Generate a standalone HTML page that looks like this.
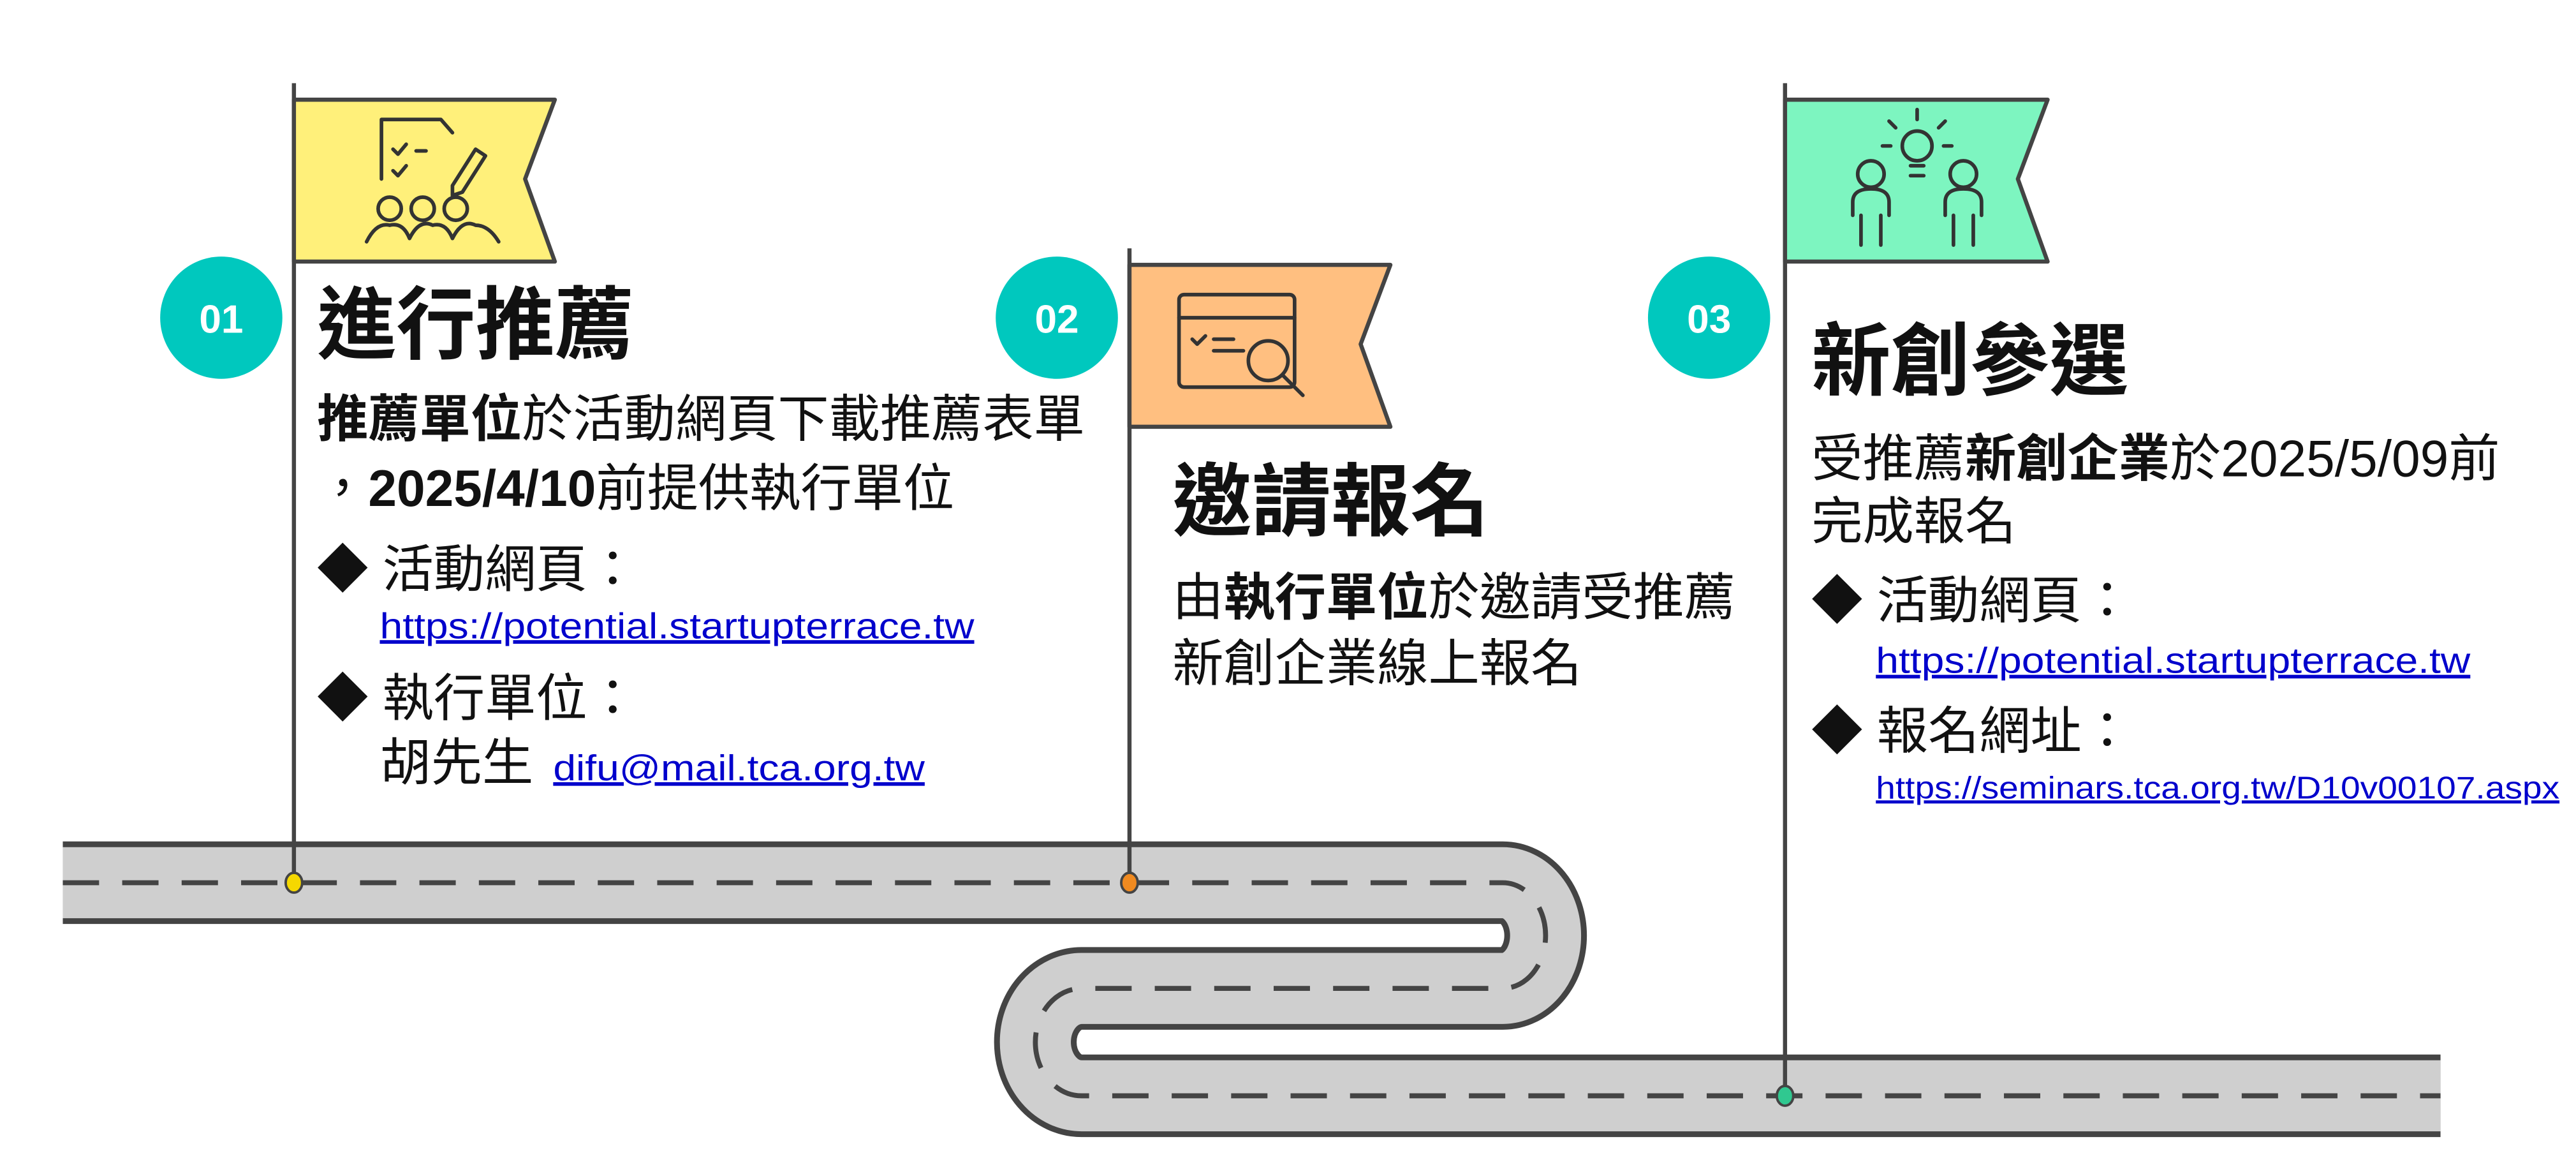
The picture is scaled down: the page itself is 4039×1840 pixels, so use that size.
<!DOCTYPE html>
<html><head><meta charset="utf-8"><style>
html,body{margin:0;padding:0;background:#fff;}
svg{display:block;}
text{font-family:"Liberation Sans","Noto Sans CJK TC",sans-serif;fill:#111;}
.t{font-size:48px;font-weight:bold;}
.b{font-size:31px;}
.l{fill:#0000CC;text-decoration:underline;}
.n{font-size:24px;font-weight:bold;fill:#fff;}
</style></head><body>
<svg width="4039" height="1840" viewBox="0 0 1560 710" xmlns="http://www.w3.org/2000/svg">
<!-- road -->
<g fill="none">
<path d="M38 534 H910 A26 32 0 0 1 910 598 H655 A28 32.5 0 0 0 655 663 H1478" stroke="#444" stroke-width="50"/>
<path d="M38 534 H910 A26 32 0 0 1 910 598 H655 A28 32.5 0 0 0 655 663 H1478" stroke="#cfcfcf" stroke-width="43"/>
<path d="M38 534 H910 A26 32 0 0 1 910 598 H655 A28 32.5 0 0 0 655 663 H1478" stroke="#444" stroke-width="3" stroke-dasharray="22 14"/>
<rect x="1478" y="630" width="20" height="70" fill="#fff" stroke="none"/>
<rect x="20" y="500" width="18" height="70" fill="#fff" stroke="none"/>
</g>
<!-- poles -->
<g stroke="#444" stroke-width="2.5">
<line x1="178" y1="50" x2="178" y2="534"/>
<line x1="684" y1="150" x2="684" y2="534"/>
<line x1="1081" y1="50" x2="1081" y2="663"/>
</g>
<ellipse cx="178" cy="534" rx="5" ry="6" fill="#f5d800" stroke="#444" stroke-width="1.5"/>
<ellipse cx="684" cy="534" rx="5" ry="6" fill="#f08a20" stroke="#444" stroke-width="1.5"/>
<ellipse cx="1081" cy="663" rx="5" ry="6" fill="#30c890" stroke="#444" stroke-width="1.5"/>
<!-- flags -->
<g stroke="#444" stroke-width="2.5" stroke-linejoin="round">
<polygon points="178,60 336,60 318,108 336,158 178,158" fill="#FFF07A"/>
<polygon points="684,160 842,160 824,208 842,258 684,258" fill="#FFBF80"/>
<polygon points="1081,60 1240,60 1222,108 1240,158 1081,158" fill="#7DF5C0"/>
</g>
<!-- icons -->
<g fill="none" stroke="#333" stroke-width="2.2" stroke-linecap="round" stroke-linejoin="round">
<path d="M231 108 V72 H267 L274 80"/>
<path d="M238 90 l3 3 5-6 M238 103 l3 3 5-6 M252 91 h6"/>
<path d="M288 90 l6 4 -14 22 -6 2 0-6z"/>
<circle cx="236" cy="126" r="7"/><circle cx="256" cy="126" r="7"/><circle cx="276" cy="126" r="7"/>
<path d="M222 146 q6-12 14-10 q8-2 12 8 q6-12 14-8 q8-2 12 8 q6-12 14-8 q8 0 14 10"/>
<rect x="714" y="178" width="70" height="56" rx="3"/><path d="M714 192 H784 M722 205 l3 3 5-5 M735 205 h12 M735 212 h18"/>
<circle cx="768" cy="218" r="12" fill="#FFBF80"/><path d="M777 227 l12 12"/>
<circle cx="1161" cy="88" r="9"/><path d="M1157 100 h8 M1157 106 h8 M1161 72 v-6 M1148 77 l-4-4 M1174 77 l4-4 M1145 88 h-5 M1177 88 h5"/>
<circle cx="1133" cy="105" r="8"/><path d="M1122 130 v-8 q0-8 11-8 q11 0 11 8 v8 M1127 130 v18 M1139 130 v18"/>
<circle cx="1189" cy="105" r="8"/><path d="M1178 130 v-8 q0-8 11-8 q11 0 11 8 v8 M1183 130 v18 M1195 130 v18"/>
</g>
<!-- number circles -->
<circle cx="134" cy="192" r="37" fill="#00C8BE"/>
<circle cx="640" cy="192" r="37" fill="#00C8BE"/>
<circle cx="1035" cy="192" r="37" fill="#00C8BE"/>
<text class="n" x="134" y="201" text-anchor="middle">01</text>
<text class="n" x="640" y="201" text-anchor="middle">02</text>
<text class="n" x="1035" y="201" text-anchor="middle">03</text>
<!-- column 1 -->
<text class="t" x="192" y="213">進行推薦</text>
<text class="b" x="192" y="264"><tspan font-weight="bold">推薦單位</tspan>於活動網頁下載推薦表單</text>
<text class="b" x="192" y="306">，<tspan font-weight="bold">2025/4/10</tspan>前提供執行單位</text>
<text class="b" x="192" y="355">◆ 活動網頁：</text>
<text class="l" x="230" y="386" font-size="22" textLength="360" lengthAdjust="spacingAndGlyphs">https://potential.startupterrace.tw</text>
<text class="b" x="192" y="433">◆ 執行單位：</text>
<text class="b" x="230" y="472">胡先生</text>
<text class="l" x="335" y="472" font-size="22" textLength="225" lengthAdjust="spacingAndGlyphs">difu@mail.tca.org.tw</text>
<!-- column 2 -->
<text class="t" x="710" y="320">邀請報名</text>
<text class="b" x="710" y="372">由<tspan font-weight="bold">執行單位</tspan>於邀請受推薦</text>
<text class="b" x="710" y="412">新創企業線上報名</text>
<!-- column 3 -->
<text class="t" x="1097" y="235">新創參選</text>
<text class="b" x="1097" y="288">受推薦<tspan font-weight="bold">新創企業</tspan>於2025/5/09前</text>
<text class="b" x="1097" y="326">完成報名</text>
<text class="b" x="1097" y="374">◆ 活動網頁：</text>
<text class="l" x="1136" y="407" font-size="22" textLength="360" lengthAdjust="spacingAndGlyphs">https://potential.startupterrace.tw</text>
<text class="b" x="1097" y="453">◆ 報名網址：</text>
<text class="l" x="1136" y="483" font-size="19" textLength="414" lengthAdjust="spacingAndGlyphs">https://seminars.tca.org.tw/D10v00107.aspx</text>
</svg>
</body></html>
